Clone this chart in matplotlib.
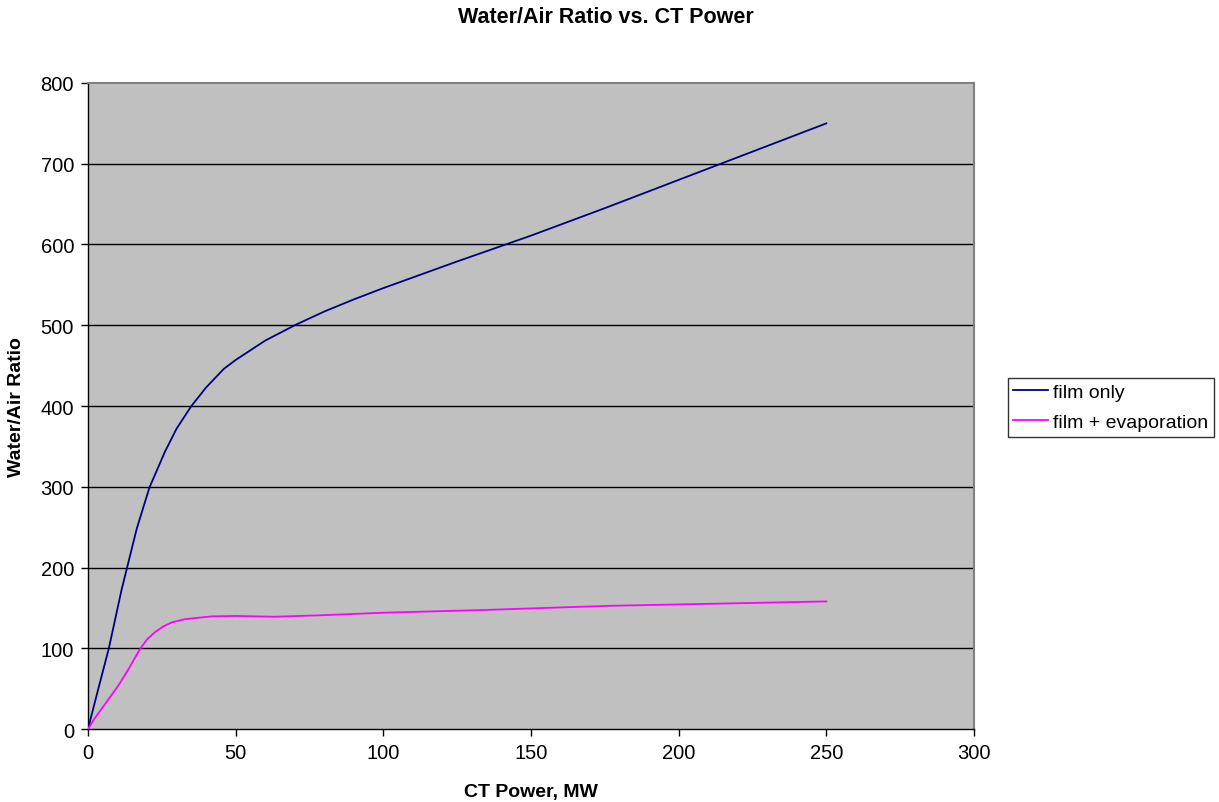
import matplotlib
matplotlib.use("Agg")
import matplotlib.pyplot as plt

# CT power (MW) and water/air ratio for each case
power_film = [0, 3.5, 7, 11.4, 16.5, 20.8, 26, 30, 35, 40, 46, 50, 60, 70, 80, 90, 100,
              125, 150, 175, 200, 225, 250]
ratio_film = [0, 50, 99, 173, 248, 299, 343, 372, 400, 423, 446, 457, 481, 500,
              517, 532, 546, 579, 611, 645, 680, 715, 750]

power_evap = [0, 2.4, 5.8, 10.3, 13.7, 17.6, 20, 22.7, 25.5, 28.3, 32.8, 38, 42, 50,
              63, 80, 100, 135, 176, 210, 250]
ratio_evap = [0, 14, 31, 54, 74, 99, 111, 120, 127, 132, 136, 138, 139.5, 140,
              139, 141, 144, 147.5, 152.5, 155, 158]

series_names = ["film only", "film + evaporation"]
series_colors = ["#000080", "#FF00FF"]

plt.rcParams["font.family"] = ["Liberation Sans", "DejaVu Sans"]

fig = plt.figure(figsize=(12.19, 8.03), dpi=100)
ax = fig.add_axes([0.0722, 0.0909, 0.7268, 0.8045])
ax.set_facecolor("#C0C0C0")

for y in range(100, 800, 100):
    ax.axhline(y, color="black", linewidth=1.0, zorder=1)

ax.plot(power_film, ratio_film, color=series_colors[0], linewidth=1.3,
        label=series_names[0], zorder=3, solid_joinstyle="round")
ax.plot(power_evap, ratio_evap, color=series_colors[1], linewidth=1.3,
        label=series_names[1], zorder=3, solid_joinstyle="round")

ax.set_xlim(0, 300)
ax.set_ylim(0, 800)
ax.set_xticks(range(0, 301, 50))
ax.set_yticks(range(0, 801, 100))
ax.tick_params(axis="both", labelsize=14.5, length=5, width=1, color="black",
               direction="out", pad=5)

for side in ["top", "right"]:
    ax.spines[side].set_color("#808080")
    ax.spines[side].set_linewidth(1.5)
for side in ["left", "bottom"]:
    ax.spines[side].set_color("black")
    ax.spines[side].set_linewidth(1.0)

ax.set_xlabel("CT Power, MW", fontsize=14, fontweight="bold", labelpad=15)
ax.set_ylabel("Water/Air Ratio", fontsize=14, fontweight="bold", labelpad=11)
fig.text(0.497, 0.978, "Water/Air Ratio vs. CT Power", fontsize=15.5,
         fontweight="bold", ha="center", va="center")

leg = ax.legend(loc="center left", bbox_to_anchor=(1.038, 0.498), fontsize=14,
                frameon=True, fancybox=False, borderpad=0.3, handlelength=1.75,
                handletextpad=0.3, labelspacing=0.62, borderaxespad=0)
leg.get_frame().set_edgecolor("black")
leg.get_frame().set_linewidth(1.0)

fig.savefig("out.png", dpi=100, facecolor="white")
